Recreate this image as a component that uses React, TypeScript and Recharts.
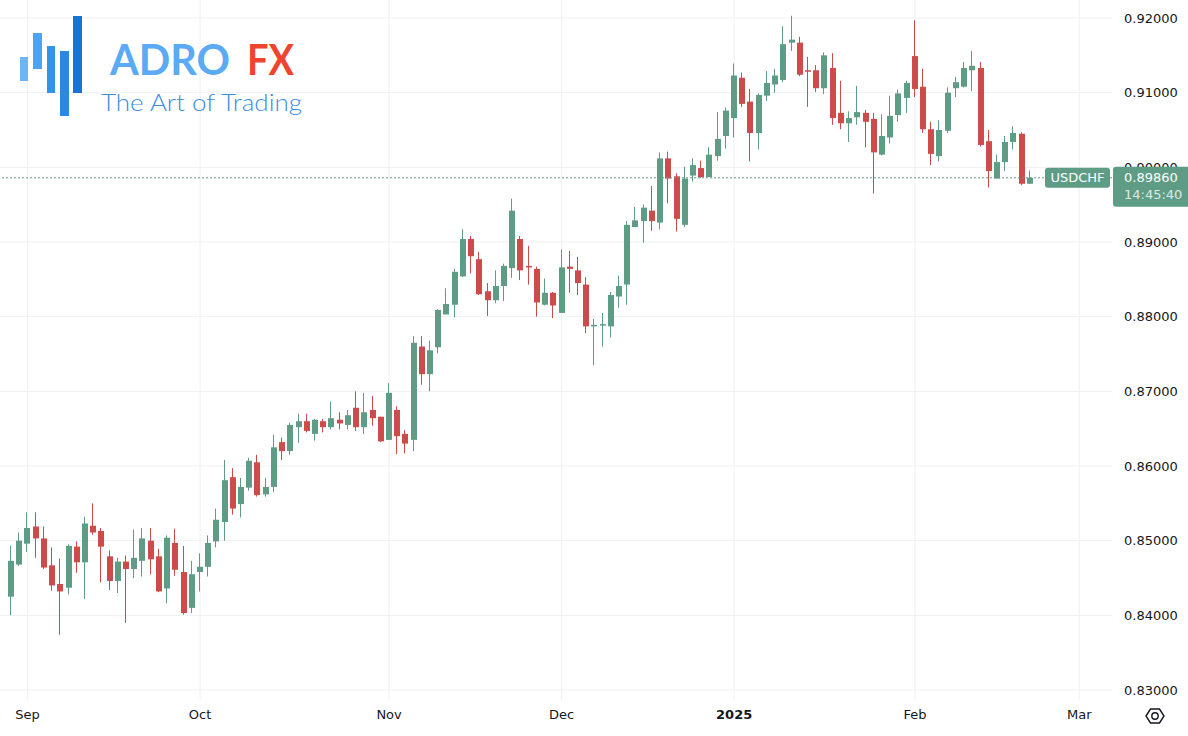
import React from "react";
import {
  ComposedChart,
  Bar,
  XAxis,
  YAxis,
  CartesianGrid,
  ReferenceLine,
} from "recharts";

document.body.style.margin = "0";

const FONT = "DejaVu Sans";
const UP = "#5e9c85";
const DOWN = "#cd4b4b";
const INK = "#131722";

// trading days, Aug 29 2024 .. Feb 21 2025, then empty slots up to early March
const dates = [
  "2024-08-29", "2024-08-30",
  "2024-09-02", "2024-09-03", "2024-09-04", "2024-09-05", "2024-09-06",
  "2024-09-09", "2024-09-10", "2024-09-11", "2024-09-12", "2024-09-13",
  "2024-09-16", "2024-09-17", "2024-09-18", "2024-09-19", "2024-09-20",
  "2024-09-23", "2024-09-24", "2024-09-25", "2024-09-26", "2024-09-27",
  "2024-09-30",
  "2024-10-01", "2024-10-02", "2024-10-03", "2024-10-04",
  "2024-10-07", "2024-10-08", "2024-10-09", "2024-10-10", "2024-10-11",
  "2024-10-14", "2024-10-15", "2024-10-16", "2024-10-17", "2024-10-18",
  "2024-10-21", "2024-10-22", "2024-10-23", "2024-10-24", "2024-10-25",
  "2024-10-28", "2024-10-29", "2024-10-30", "2024-10-31",
  "2024-11-01",
  "2024-11-04", "2024-11-05", "2024-11-06", "2024-11-07", "2024-11-08",
  "2024-11-11", "2024-11-12", "2024-11-13", "2024-11-14", "2024-11-15",
  "2024-11-18", "2024-11-19", "2024-11-20", "2024-11-21", "2024-11-22",
  "2024-11-25", "2024-11-26", "2024-11-27", "2024-11-28", "2024-11-29",
  "2024-12-02", "2024-12-03", "2024-12-04", "2024-12-05", "2024-12-06",
  "2024-12-09", "2024-12-10", "2024-12-11", "2024-12-12", "2024-12-13",
  "2024-12-16", "2024-12-17", "2024-12-18", "2024-12-19", "2024-12-20",
  "2024-12-23", "2024-12-24", "2024-12-26", "2024-12-27",
  "2024-12-30", "2024-12-31",
  "2025-01-02", "2025-01-03",
  "2025-01-06", "2025-01-07", "2025-01-08", "2025-01-09", "2025-01-10",
  "2025-01-13", "2025-01-14", "2025-01-15", "2025-01-16", "2025-01-17",
  "2025-01-20", "2025-01-21", "2025-01-22", "2025-01-23", "2025-01-24",
  "2025-01-27", "2025-01-28", "2025-01-29", "2025-01-30", "2025-01-31",
  "2025-02-03", "2025-02-04", "2025-02-05", "2025-02-06", "2025-02-07",
  "2025-02-10", "2025-02-11", "2025-02-12", "2025-02-13", "2025-02-14",
  "2025-02-17", "2025-02-18", "2025-02-19", "2025-02-20", "2025-02-21",
  "2025-02-24", "2025-02-25", "2025-02-26", "2025-02-27", "2025-02-28",
  "2025-03-03", "2025-03-04", "2025-03-05", "2025-03-06",
];

const opens = [
  0.8425, 0.8468, 0.8496, 0.8519, 0.8503, 0.8467, 0.8442, 0.8437, 0.8492, 0.8471,
  0.852, 0.8513, 0.8479, 0.8446, 0.8472, 0.8462, 0.8473, 0.85, 0.8479, 0.8436,
  0.8497, 0.8458, 0.841, 0.8458, 0.8465, 0.8499, 0.8525, 0.8585, 0.8549, 0.8571,
  0.8605, 0.8562, 0.8572, 0.8632, 0.862, 0.8652, 0.866, 0.8643, 0.866, 0.8652,
  0.8662, 0.8655, 0.8678, 0.8652, 0.8675, 0.8666, 0.8635, 0.8675, 0.8643, 0.8635,
  0.876, 0.8723, 0.8759, 0.8803, 0.8816, 0.8854, 0.8904, 0.8877, 0.8834, 0.8822,
  0.8841, 0.8865, 0.8904, 0.8868, 0.8864, 0.8816, 0.8832, 0.8805, 0.8867, 0.8862,
  0.8843, 0.8787, 0.8788, 0.8787, 0.8827, 0.8843, 0.892, 0.8928, 0.8942, 0.8926,
  0.9012, 0.8988, 0.8923, 0.8989, 0.8999, 0.8987, 0.9015, 0.9042, 0.9066, 0.912,
  0.9088, 0.9046, 0.9096, 0.9111, 0.9117, 0.9167, 0.9167, 0.913, 0.913, 0.9106,
  0.9133, 0.9073, 0.9059, 0.9067, 0.9073, 0.9065, 0.9017, 0.904, 0.907, 0.9093,
  0.9149, 0.9108, 0.9051, 0.9015, 0.9049, 0.9106, 0.9108, 0.913, 0.9133, 0.9035,
  0.8985, 0.9007, 0.9034, 0.9045, 0.8978,
];

const highs = [
  0.8493, 0.8511, 0.8538, 0.8538, 0.8519, 0.8491, 0.8476, 0.8495, 0.8499, 0.8532,
  0.855, 0.8517, 0.8487, 0.8477, 0.848, 0.8515, 0.8517, 0.8517, 0.8489, 0.8507,
  0.8516, 0.8493, 0.8473, 0.8483, 0.8507, 0.8543, 0.8608, 0.8597, 0.8584, 0.8611,
  0.8615, 0.8584, 0.8642, 0.8638, 0.8658, 0.867, 0.867, 0.8663, 0.8663, 0.8686,
  0.8672, 0.8675, 0.87, 0.8698, 0.8694, 0.8666, 0.8711, 0.868, 0.8648, 0.8774,
  0.8774, 0.8768, 0.881, 0.8838, 0.8864, 0.8917, 0.8908, 0.8887, 0.8845, 0.8862,
  0.8871, 0.8958, 0.8908, 0.8895, 0.8867, 0.8851, 0.8833, 0.889, 0.8888, 0.888,
  0.8853, 0.8797, 0.8805, 0.8833, 0.8855, 0.8928, 0.8947, 0.895, 0.8975, 0.902,
  0.9021, 0.8992, 0.9001, 0.9012, 0.9009, 0.9027, 0.9074, 0.908, 0.9139, 0.9127,
  0.9105, 0.9099, 0.9129, 0.9132, 0.9189, 0.9203, 0.9175, 0.9148, 0.9137, 0.9154,
  0.9153, 0.9116, 0.9075, 0.9109, 0.9077, 0.9073, 0.9071, 0.9096, 0.9104, 0.9116,
  0.9197, 0.9132, 0.9061, 0.9063, 0.9107, 0.9121, 0.9141, 0.9156, 0.9141, 0.905,
  0.9017, 0.9042, 0.9055, 0.9047, 0.8996,
];

const lows = [
  0.84, 0.8466, 0.8485, 0.8477, 0.8462, 0.8433, 0.8374, 0.8428, 0.8457, 0.8422,
  0.8508, 0.8444, 0.8434, 0.843, 0.839, 0.845, 0.8452, 0.8455, 0.8431, 0.8416,
  0.8453, 0.8401, 0.8403, 0.8432, 0.8452, 0.8491, 0.85, 0.8535, 0.8531, 0.8567,
  0.8559, 0.8559, 0.8565, 0.8608, 0.8615, 0.8631, 0.8645, 0.8634, 0.8645, 0.8649,
  0.8649, 0.8649, 0.8647, 0.8643, 0.8654, 0.8632, 0.8635, 0.8616, 0.8617, 0.862,
  0.8709, 0.87, 0.8751, 0.8803, 0.8799, 0.8853, 0.8858, 0.8829, 0.8801, 0.8818,
  0.8821, 0.8852, 0.8849, 0.8843, 0.88, 0.8815, 0.8798, 0.8805, 0.8832, 0.8829,
  0.8778, 0.8735, 0.876, 0.8772, 0.8812, 0.8816, 0.892, 0.8899, 0.8915, 0.8917,
  0.8952, 0.8914, 0.892, 0.8981, 0.8986, 0.8987, 0.9009, 0.9025, 0.904, 0.9081,
  0.9008, 0.9024, 0.9089, 0.91, 0.9114, 0.9156, 0.9122, 0.9081, 0.9101, 0.9098,
  0.9057, 0.9051, 0.9034, 0.9057, 0.9027, 0.8965, 0.9016, 0.9032, 0.9061, 0.9073,
  0.9094, 0.9046, 0.9003, 0.9008, 0.9046, 0.9094, 0.9107, 0.9102, 0.9028, 0.8973,
  0.8985, 0.8995, 0.9024, 0.8976, 0.8978,
];

const closes = [
  0.8473, 0.85, 0.8517, 0.8503, 0.8464, 0.844, 0.8432, 0.8493, 0.8471, 0.8523,
  0.8511, 0.8492, 0.8446, 0.8472, 0.8462, 0.8477, 0.8503, 0.8475, 0.8432, 0.8504,
  0.8461, 0.8403, 0.8455, 0.8465, 0.8497, 0.8528, 0.8581, 0.8543, 0.8572, 0.8607,
  0.8561, 0.8572, 0.8625, 0.862, 0.8655, 0.866, 0.8647, 0.8662, 0.8652, 0.8664,
  0.8657, 0.8668, 0.8652, 0.8672, 0.8664, 0.8633, 0.8698, 0.864, 0.863, 0.8765,
  0.8723, 0.8755, 0.8809, 0.8817, 0.886, 0.8904, 0.8881, 0.883, 0.8822, 0.8841,
  0.8868, 0.8942, 0.8862, 0.8866, 0.8819, 0.8832, 0.8815, 0.8866, 0.8864, 0.8845,
  0.8787, 0.8789, 0.879, 0.8829, 0.8841, 0.8923, 0.8929, 0.8946, 0.8928, 0.9012,
  0.8985, 0.8931, 0.8985, 0.9003, 0.8987, 0.9017, 0.9038, 0.9076, 0.9123, 0.9085,
  0.9046, 0.9097, 0.9113, 0.9123, 0.9165, 0.9171, 0.9124, 0.9128, 0.9106, 0.915,
  0.9066, 0.9059, 0.9066, 0.9074, 0.9061, 0.902, 0.9042, 0.9069, 0.9099, 0.9113,
  0.9105, 0.9051, 0.9018, 0.905, 0.91, 0.9114, 0.9133, 0.9136, 0.903, 0.8995,
  0.9007, 0.9034, 0.9046, 0.8978, 0.8986,
];

const tickDates = ["2024-09-02", "2024-10-01", "2024-11-01", "2024-12-02", "2025-01-02", "2025-02-03", "2025-03-03"];
const tickLabels = ["Sep", "Oct", "Nov", "Dec", "2025", "Feb", "Mar"];
const priceTicks = [0.83, 0.84, 0.85, 0.86, 0.87, 0.88, 0.89, 0.9, 0.91, 0.92];

const symbol = "USDCHF";
const countdown = "14:45:40";

type Row = { d: string; o?: number; h?: number; l?: number; c?: number };

const rows: Row[] = dates.map((d, i) =>
  i < closes.length ? { d, o: opens[i], h: highs[i], l: lows[i], c: closes[i] } : { d }
);
const lastClose = closes[closes.length - 1];

const Candle = (props: any) => {
  const { x, y, width, height, payload } = props;
  if (payload.o == null || height == null) return null;
  const { o, h, l, c } = payload;
  const k = h > l ? height / (h - l) : 0;
  const top = y + (h - Math.max(o, c)) * k;
  const bottom = y + (h - Math.min(o, c)) * k;
  const cx = Math.round(x + width / 2);
  const color = c >= o ? UP : DOWN;
  return (
    <g>
      <rect x={cx - 1} y={y} width={1} height={Math.max(height, 1)} fill={color} />
      <rect x={cx - 3} y={top} width={6} height={Math.max(bottom - top, 1)} fill={color} />
    </g>
  );
};

const DateTick = (props: any) => {
  const { x, y, payload } = props;
  const label = tickLabels[tickDates.indexOf(payload.value)];
  return (
    <text
      x={x}
      y={y}
      dy="0.71em"
      textAnchor="middle"
      fill={INK}
      fontSize={13}
      fontFamily={FONT}
      fontWeight={label === "2025" ? 700 : 400}
    >
      {label}
    </text>
  );
};

// price ticks; the last-price tick comes last so its box sits over the others
const PriceTick = (props: any) => {
  const { x, y, payload } = props;
  if (payload.value === lastClose) {
    return (
      <g fontFamily={FONT} fontSize={13}>
        <rect x={x - 11} y={y - 11} width={80} height={40} rx={3} fill={UP} />
        <text x={x} y={y} dy="0.36em" fill="#fff">
          {lastClose.toFixed(5)}
        </text>
        <text x={x} y={y + 17} dy="0.36em" fill="#fff" fillOpacity={0.8}>
          {countdown}
        </text>
      </g>
    );
  }
  return (
    <text x={x} y={y} dy="0.36em" fill={INK} fontSize={13} fontFamily={FONT}>
      {payload.value.toFixed(5)}
    </text>
  );
};

const SymbolTag = (props: any) => {
  const { x, y, width } = props.viewBox;
  const right = x + width;
  return (
    <g fontFamily={FONT} fontSize={13}>
      <rect x={right - 67} y={y - 10} width={65} height={20} rx={3} fill={UP} />
      <text x={right - 34.5} y={y} dy="0.36em" textAnchor="middle" fill="#fff">
        {symbol}
      </text>
    </g>
  );
};

const Logo = () => (
  <svg
    width={320}
    height={130}
    style={{ position: "absolute", left: 0, top: 0, pointerEvents: "none" }}
  >
    <rect x={20} y={57} width={8} height={24} fill="#6cb5f6" />
    <rect x={33} y={33} width={9} height={36} fill="#4ba3f2" />
    <rect x={47} y={46} width={8} height={47} fill="#2f95ec" />
    <rect x={60} y={51} width={9} height={65} fill="#2a88e2" />
    <rect x={73} y={16} width={9} height={77} fill="#1a73d0" />
    <text x={110} y={75} fontFamily="Lato" fontWeight={700} fontSize={42} fill="#5aaaf6" textLength={120} lengthAdjust="spacingAndGlyphs">
      ADRO
    </text>
    <text x={247} y={75} fontFamily="Lato" fontWeight={700} fontSize={42} fill="#f2432f" textLength={47} lengthAdjust="spacingAndGlyphs">
      FX
    </text>
    <text x={101} y={111} fontFamily="Lato" fontWeight={300} fontSize={24} fill="#3a8ce0" textLength={201} lengthAdjust="spacingAndGlyphs">
      The Art of Trading
    </text>
  </svg>
);

const Gear = () => (
  <svg
    width={30}
    height={30}
    viewBox="1140 701 30 30"
    style={{ position: "absolute", left: 1140, top: 701, pointerEvents: "none" }}
  >
    <polygon
      points="1146,716 1150.5,709 1159.5,709 1164,716 1159.5,723 1150.5,723"
      fill="none"
      stroke={INK}
      strokeWidth={1.4}
    />
    <circle cx={1155} cy={716} r={3.2} fill="none" stroke={INK} strokeWidth={1.4} />
  </svg>
);

const App = () => {
  return (
    <div style={{ position: "relative", width: 1188, height: 736, background: "#fff", overflow: "hidden" }}>
      <ComposedChart
        width={1188}
        height={736}
        data={rows}
        margin={{ top: 0, right: 0, bottom: 0, left: 0 }}
        barCategoryGap={0}
        barGap={0}
      >
        <CartesianGrid stroke="#f0f0f0" syncWithTicks horizontalValues={priceTicks} />
        <XAxis
          dataKey="d"
          ticks={tickDates}
          interval={0}
          height={36}
          padding={{ left: 7, right: 4 }}
          tickLine={false}
          axisLine={false}
          tickMargin={4}
          tick={<DateTick />}
        />
        <YAxis
          orientation="right"
          width={76}
          domain={[0.828661, 0.922411]}
          allowDataOverflow
          ticks={[...priceTicks, lastClose]}
          interval={0}
          tickLine={false}
          axisLine={false}
          tickMargin={6}
          tick={<PriceTick />}
        />
        <Bar
          dataKey={(r: Row) => (r.o == null ? null : [r.l, r.h])}
          shape={<Candle />}
          isAnimationActive={false}
        />
        <ReferenceLine
          y={lastClose}
          stroke={UP}
          strokeDasharray="2 2"
          label={<SymbolTag />}
        />
      </ComposedChart>
      <Logo />
      <Gear />
    </div>
  );
};

export default App;
